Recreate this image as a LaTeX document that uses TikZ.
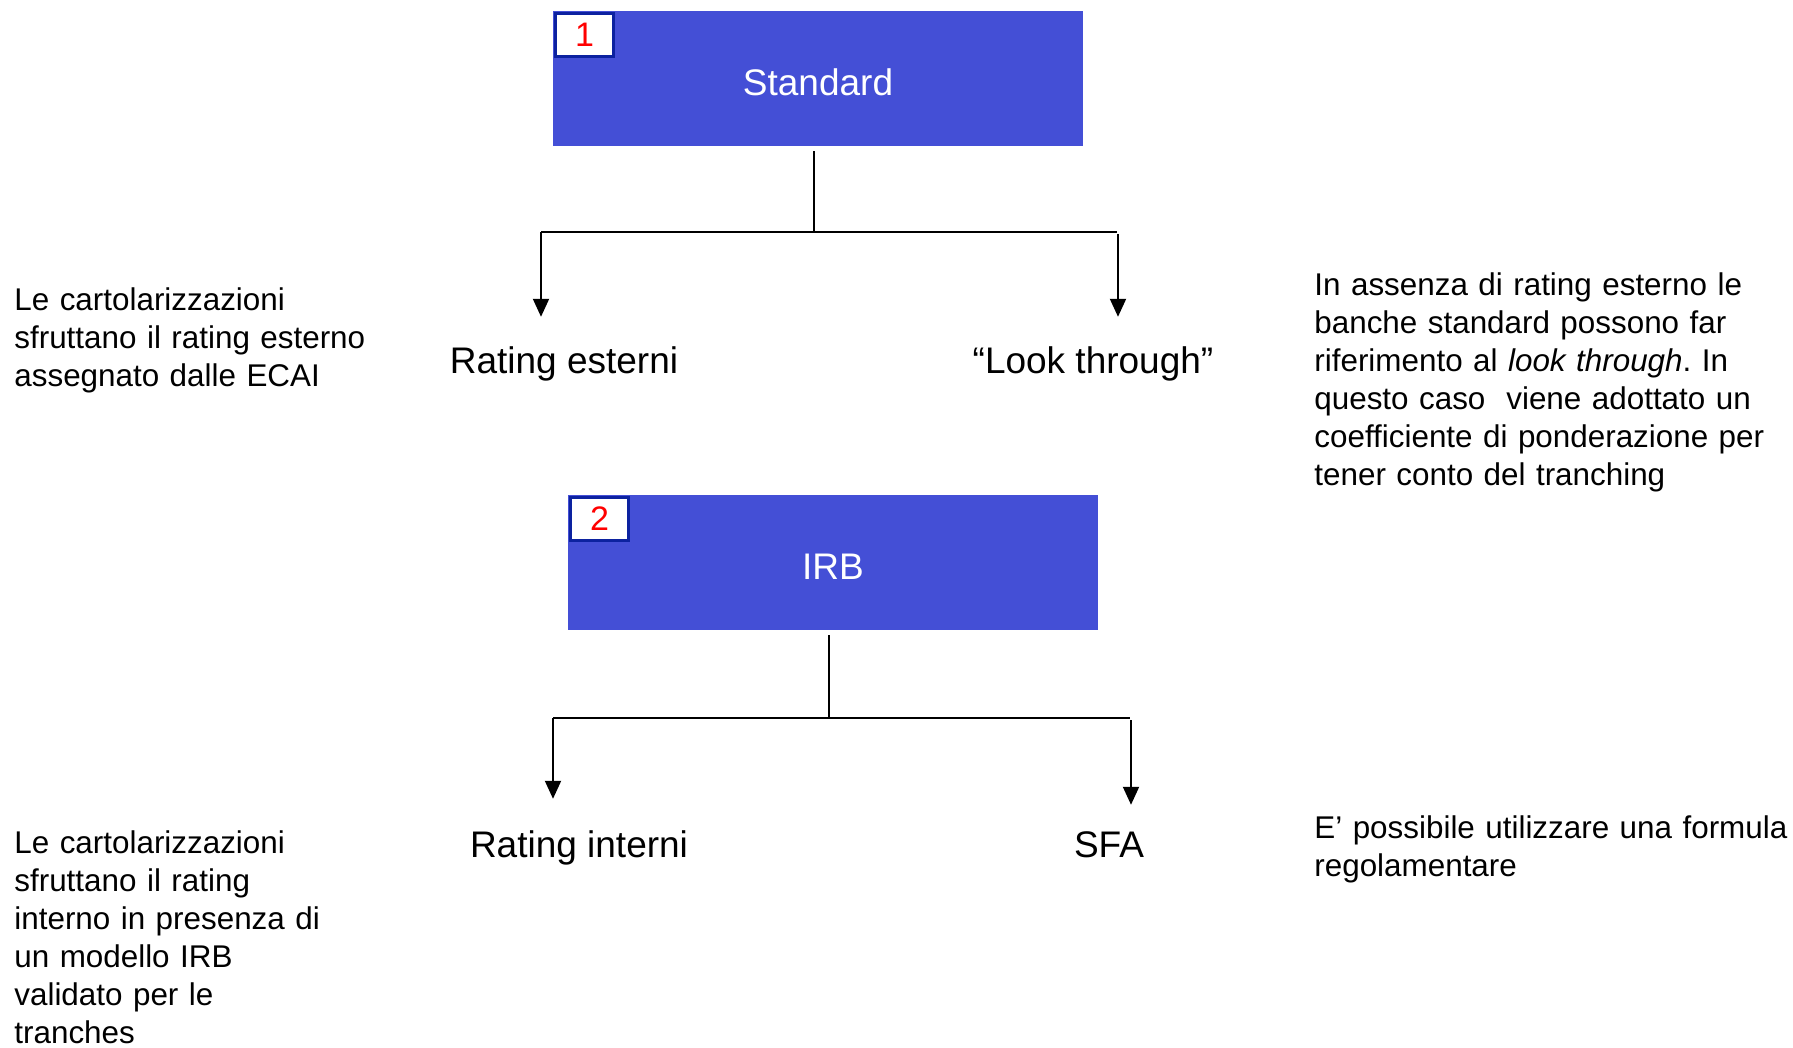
\documentclass[tikz,border=0pt]{standalone}
\usepackage{fontspec}
\setmainfont{Liberation Sans}
\usepackage{tikz}
\usetikzlibrary{positioning, arrows.meta}
\definecolor{boxblue}{RGB}{68,79,214}
\definecolor{numblue}{RGB}{12,34,160}
\frenchspacing

\begin{document}
\begin{tikzpicture}[
  x=0.5pt, y=-0.5pt,
  method/.style={rectangle, fill=boxblue, text=white, inner sep=0pt, text height=17pt, text depth=0pt,
                 minimum width=265pt, minimum height=67.5pt, font=\fontsize{18.5}{22}\selectfont},
  numbox/.style={rectangle, draw=numblue, line width=1.5pt, fill=white, text=red, inner sep=0pt,
                 minimum width=29pt, minimum height=21.5pt, anchor=north west, font=\fontsize{17}{20}\selectfont},
  choice/.style={inner sep=0pt, anchor=base, font=\fontsize{18.5}{22}\selectfont},
  note/.style={inner sep=0pt, anchor=base west, align=left, text width=260pt,
               font=\fontsize{15.7}{19}\selectfont},
  tree/.style={line width=1pt},
  arr/.style={-{Triangle[length=9pt, width=8pt]}, line width=1pt},
]
\useasboundingbox (0,0) rectangle (1793,1048);
% --- approach 1: standard ---
\node[method] (std) at (818,78.5) {Standard};
\node[numbox] (n1) at ([shift={(0.75pt,-0.75pt)}]std.north west) {1};
\node[choice] (rest) at (564,373) {Rating esterni};
\node[choice] (look) at (1093,373) {“Look through”};
\coordinate (s1) at (814,232);
\coordinate (sl) at (541,232);
\coordinate (sr) at (1117,232);
\draw[tree] ([xshift=-2pt, yshift=-2.5pt]std.south) -- (s1);
\draw[tree] (sl) -- (sr);
\draw[arr, shorten >=14.5pt] (sl) -- (sl |- rest.north);
\draw[arr, shorten >=14.5pt] ([shift={(0.5pt,-1pt)}]sr) -- ([xshift=0.5pt]sr |- look.north);
% notes
\node[note] (nrest) at (14,310) {Le cartolarizzazioni\\ sfruttano il rating esterno\\ assegnato dalle ECAI};
\node[note] (nlook) at (1314,295) {In assenza di rating esterno le\\ banche standard possono far\\ riferimento al \textit{look through}. In\\ questo caso~ viene adottato un\\ coefficiente di ponderazione per\\ tener conto del tranching};
% --- approach 2: IRB ---
\node[method] (irb) at (833,562.5) {IRB};
\node[numbox] (n2) at ([shift={(0.75pt,-0.75pt)}]irb.north west) {2};
\node[choice] (rint) at (579,857) {Rating interni};
\node[choice] (sfa) at (1109,857) {SFA};
\coordinate (i1) at (829,718);
\coordinate (il) at (553,718);
\coordinate (ir) at (1130,718);
\draw[tree] ([xshift=-2pt, yshift=-2.5pt]irb.south) -- (i1);
\draw[tree] (il) -- (ir);
\draw[arr, shorten >=15.5pt] (il) -- (il |- rint.north);
\draw[arr, shorten >=13pt] ([shift={(0.5pt,-1pt)}]ir) -- ([xshift=0.5pt]ir |- sfa.north);
% notes
\node[note] (nrint) at (14,853) {Le cartolarizzazioni\\ sfruttano il rating\\ interno in presenza di\\ un modello IRB\\ validato per le\\ tranches};
\node[note] (nsfa) at (1314,838) {E’ possibile utilizzare una formula\\ regolamentare};
\end{tikzpicture}
\end{document}
